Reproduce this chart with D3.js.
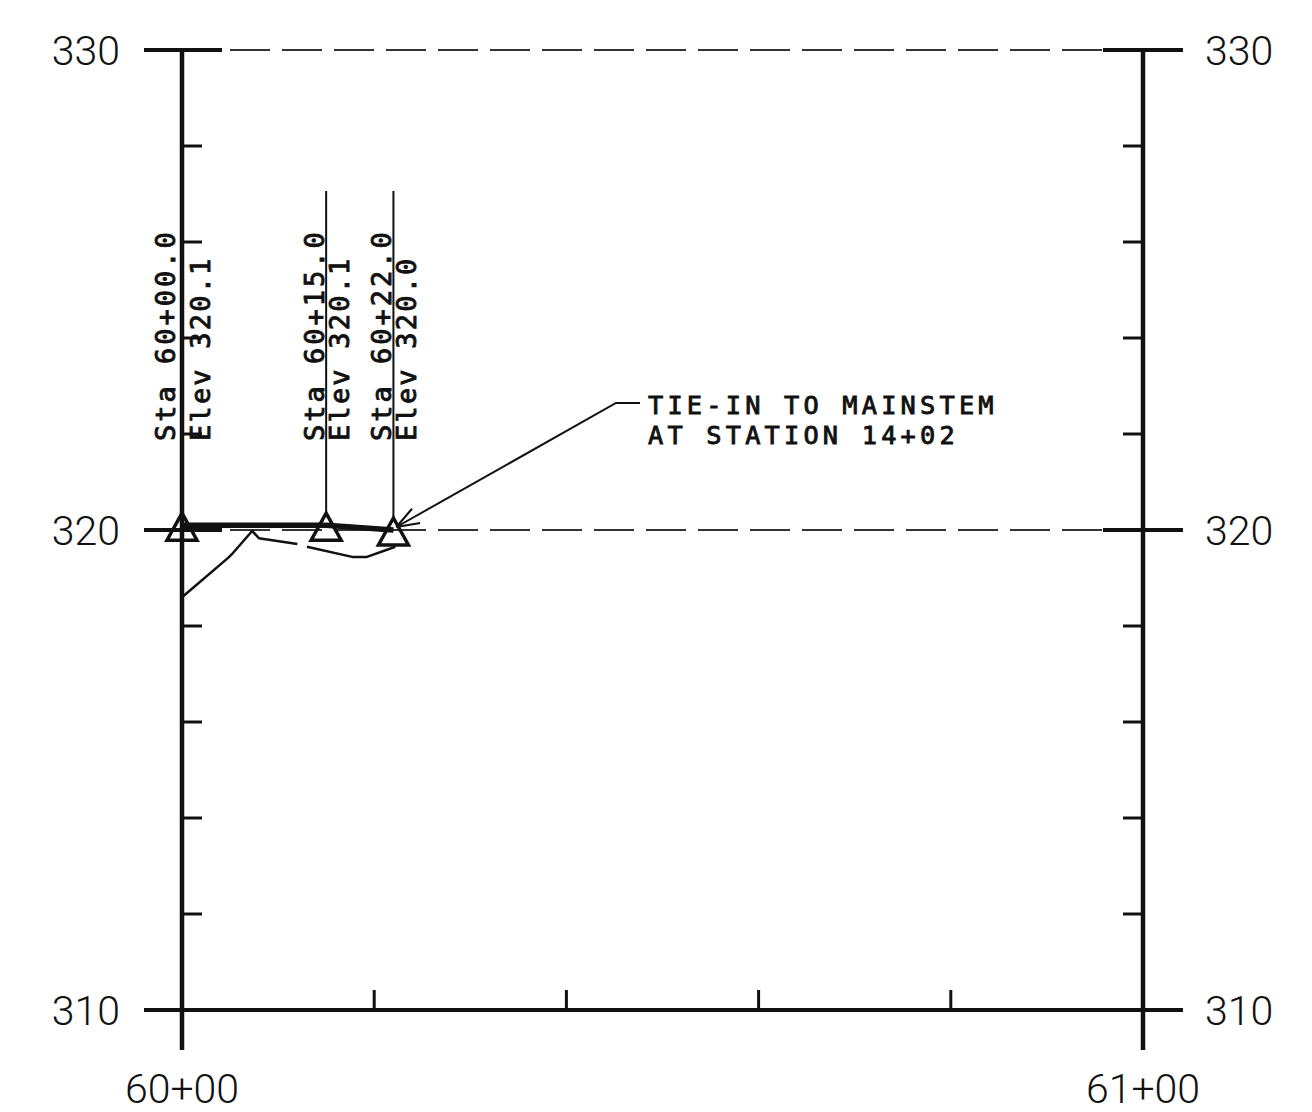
<!DOCTYPE html>
<html>
<head>
<meta charset="utf-8">
<script src="https://cdn.jsdelivr.net/npm/d3@7"></script>
<style>
  html, body { margin: 0; padding: 0; background: #fff; }
  svg { display: block; }
</style>
</head>
<body>
<svg id="chart" width="1312" height="1112"></svg>
<script>
// ---- data ----
const stationOffsets = [0, 15, 22];                 // feet past 60+00
const gradeElev = [320.1, 320.1, 320.0];
const staLabels = ["Sta 60+00.0", "Sta 60+15.0", "Sta 60+22.0"];
const elevLabels = ["Elev 320.1", "Elev 320.1", "Elev 320.0"];
const groundSta  = [0, 4.8, 5.3, 7.3, 8.0, 12.0, NaN, 13.0, 17.7, 19.25, 22.2];
const groundElev = [318.6, 319.42, 319.52, 319.98, 319.83, 319.71, NaN, 319.65, 319.44, 319.44, 319.65];
const yMajorTicks = [310, 320, 330];
const yMinorTicks = [312, 314, 316, 318, 322, 324, 326, 328];
const xMajorTicks = [0, 100];
const xMajorLabels = ["60+00", "61+00"];
const xMinorTicks = [20, 40, 60, 80];
const calloutLines = ["TIE-IN TO MAINSTEM", "AT STATION 14+02"];
const calloutTarget = 2; // index into stations

// ---- scales ----
const svg = d3.select("#chart");
const x = d3.scaleLinear().domain([0, 100]).range([182, 1143]);
const y = d3.scaleLinear().domain([310, 330]).range([1010, 50]);
const x0 = x(0), x1 = x(100);
const ink = "#111";

// ---- horizontal major lines ----
yMajorTicks.forEach(v => {
  const yy = y(v);
  if (v === 310) {
    svg.append("line").attr("x1", x0 - 38).attr("x2", x1 + 40)
      .attr("y1", yy).attr("y2", yy).attr("stroke", ink).attr("stroke-width", 4);
  } else {
    svg.append("line").attr("x1", x0 - 38).attr("x2", x0 + 40)
      .attr("y1", yy).attr("y2", yy).attr("stroke", ink).attr("stroke-width", 4);
    svg.append("line").attr("x1", x1 - 40).attr("x2", x1 + 40)
      .attr("y1", yy).attr("y2", yy).attr("stroke", ink).attr("stroke-width", 4);
    svg.append("line").attr("x1", x0 + 48).attr("x2", x1 - 40)
      .attr("y1", yy).attr("y2", yy).attr("stroke", "#333").attr("stroke-width", 2)
      .attr("stroke-dasharray", "40 12");
  }
});

// ---- vertical axes ----
[x0, x1].forEach(xx => {
  svg.append("line").attr("x1", xx).attr("x2", xx)
    .attr("y1", y(330)).attr("y2", y(310) + 40)
    .attr("stroke", ink).attr("stroke-width", 4.5);
});

// minor y ticks
svg.selectAll(".ytl").data(yMinorTicks).enter().append("line")
  .attr("x1", x0).attr("x2", x0 + 20).attr("y1", d => y(d)).attr("y2", d => y(d))
  .attr("stroke", ink).attr("stroke-width", 3);
svg.selectAll(".ytr").data(yMinorTicks).enter().append("line")
  .attr("x1", x1 - 20).attr("x2", x1).attr("y1", d => y(d)).attr("y2", d => y(d))
  .attr("stroke", ink).attr("stroke-width", 3);
// minor x ticks
svg.selectAll(".xt").data(xMinorTicks).enter().append("line")
  .attr("x1", d => x(d)).attr("x2", d => x(d)).attr("y1", y(310)).attr("y2", y(310) - 20)
  .attr("stroke", ink).attr("stroke-width", 3);

// ---- tick labels ----
const tickFont = "Roboto, 'Liberation Sans', Arial, sans-serif";
yMajorTicks.forEach(v => {
  svg.append("text").attr("x", x0 - 62).attr("y", y(v) + 15)
    .attr("text-anchor", "end").attr("font-family", tickFont).attr("font-weight", 300)
    .attr("font-size", 41).attr("fill", ink).text(v);
  svg.append("text").attr("x", x1 + 62).attr("y", y(v) + 15)
    .attr("text-anchor", "start").attr("font-family", tickFont).attr("font-weight", 300)
    .attr("font-size", 41).attr("fill", ink).text(v);
});
xMajorTicks.forEach((v, i) => {
  svg.append("text").attr("x", x(v)).attr("y", 1103)
    .attr("text-anchor", "middle").attr("font-family", tickFont).attr("font-weight", 300)
    .attr("font-size", 41).attr("fill", ink).text(xMajorLabels[i]);
});

// ---- ground line ----
const ground = groundSta.map((s, i) => ({ s, e: groundElev[i] }));
svg.append("path").datum(ground)
  .attr("d", d3.line().defined(d => !isNaN(d.s) && !isNaN(d.e)).x(d => x(d.s)).y(d => y(d.e)))
  .attr("fill", "none").attr("stroke", ink).attr("stroke-width", 2.5).attr("stroke-linejoin", "round");

// ---- proposed grade ----
const grade = stationOffsets.map((s, i) => ({ s, e: gradeElev[i] }));
svg.append("path").datum(grade)
  .attr("d", d3.line().x(d => x(d.s)).y(d => y(d.e)))
  .attr("fill", "none").attr("stroke", ink).attr("stroke-width", 5.5);

// ---- leaders + triangles + labels ----
const labFont = "'DejaVu Sans Mono', 'Liberation Mono', monospace";
grade.forEach((d, i) => {
  const px = x(d.s), py = y(d.e);
  if (i > 0) {
    svg.append("line").attr("x1", px).attr("x2", px).attr("y1", 191).attr("y2", py - 12)
      .attr("stroke", ink).attr("stroke-width", 2);
  }
  svg.append("path")
    .attr("d", `M${px},${py - 12} L${px + 15},${py + 15} L${px - 15},${py + 15} Z`)
    .attr("fill", "none").attr("stroke", ink).attr("stroke-width", 3.5).attr("stroke-linejoin", "miter");
  const nudge = i === 0 ? 5 : 0;
  svg.append("text")
    .attr("transform", `translate(${px - 2 - nudge},441) rotate(-90)`)
    .attr("font-family", labFont).attr("font-size", 27).attr("letter-spacing", 3)
    .attr("fill", ink).attr("stroke", ink).attr("stroke-width", 0.9).text(staLabels[i]);
  svg.append("text")
    .attr("transform", `translate(${px + 23 + nudge},441) rotate(-90)`)
    .attr("font-family", labFont).attr("font-size", 27).attr("letter-spacing", 2.2)
    .attr("fill", ink).attr("stroke", ink).attr("stroke-width", 0.9).text(elevLabels[i]);
});

// ---- callout ----
const tx = 648, ty = 414;
calloutLines.forEach((t, i) => {
  svg.append("text").attr("x", tx).attr("y", ty + i * 29.5)
    .attr("font-family", labFont).attr("font-size", 25.3).attr("letter-spacing", 4.2)
    .attr("fill", ink).attr("stroke", ink).attr("stroke-width", 0.9).text(t);
});
const tip = [x(stationOffsets[calloutTarget]) + 3, y(gradeElev[calloutTarget]) - 3];
svg.append("path")
  .attr("d", `M${tx - 8},${ty - 11} L${tx - 32},${ty - 11} L${tip[0]},${tip[1]}`)
  .attr("fill", "none").attr("stroke", ink).attr("stroke-width", 2);
// open arrowhead
const ang = Math.atan2(ty - 11 - tip[1], tx - 32 - tip[0]);
[-0.35, 0.35].forEach(da => {
  svg.append("line").attr("x1", tip[0]).attr("y1", tip[1])
    .attr("x2", tip[0] + 24 * Math.cos(ang + da)).attr("y2", tip[1] + 24 * Math.sin(ang + da))
    .attr("stroke", ink).attr("stroke-width", 2);
});
</script>
</body>
</html>
